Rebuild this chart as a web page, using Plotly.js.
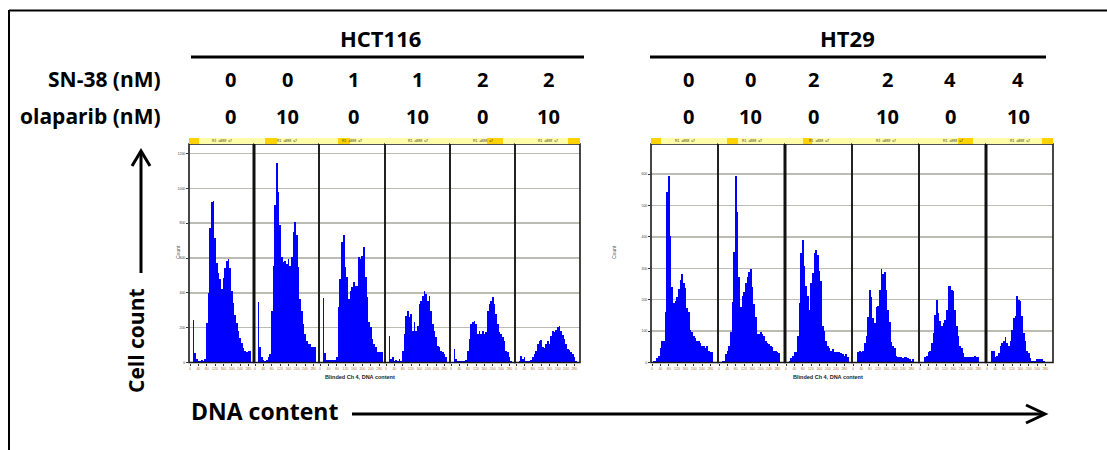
<!DOCTYPE html>
<html>
<head>
<meta charset="utf-8">
<script src="https://cdn.plot.ly/plotly-3.0.1.min.js"></script>
<style>
  html, body { margin: 0; padding: 0; background: #fff; }
  #fig { width: 1107px; height: 450px; }
</style>
</head>
<body>
<div id="fig"></div>
<script>
// ---- Treatment conditions -------------------------------------------------
const cellLines = ['HCT116', 'HT29'];
const hct116SN38 = ['0', '0', '1', '1', '2', '2'];
const hct116Olaparib = ['0', '10', '0', '10', '0', '10'];
const ht29SN38 = ['0', '0', '2', '2', '4', '4'];
const ht29Olaparib = ['0', '10', '0', '10', '0', '10'];

// ---- DNA-content histograms (cell counts per channel bin) -----------------
// HCT116
const hct116_0_0 = [0,0,245,57,23,11,11,17,6,23,228,399,770,923,929,713,570,513,479,422,485,542,581,593,542,410,342,274,228,182,143,114,86,68,63,68,68,0];
const hct116_0_10 = [0,0,348,91,34,17,11,17,29,51,296,553,906,1146,980,792,604,576,581,564,593,553,604,752,809,735,547,365,296,222,165,125,108,108,91,91,91,0];
const hct116_1_0 = [0,0,371,57,17,17,17,17,17,17,29,319,479,695,735,547,490,365,410,433,462,439,439,604,593,610,661,490,376,234,205,137,108,91,63,63,63,63];
const hct116_1_10 = [0,0,154,23,34,11,17,11,23,11,68,165,268,296,262,279,182,234,182,211,336,353,382,410,393,353,382,296,222,182,148,97,91,68,63,51,34,0];
const hct116_2_0 = [0,0,80,23,11,6,11,11,11,17,68,137,222,234,239,222,165,182,165,182,165,177,296,336,353,376,336,279,222,177,165,148,125,68,63,34,11,0];
const hct116_2_10 = [0,0,11,40,23,29,6,6,11,17,34,51,68,108,125,131,91,86,108,125,108,154,182,177,188,205,211,182,160,137,108,80,74,63,51,34,11,0];
// HT29
const ht29_0_0 = [0,6,6,13,22,45,67,70,160,544,595,403,240,189,195,208,234,262,282,253,237,173,160,102,96,86,77,70,67,61,54,51,45,51,38,32,32,0,0,0];
const ht29_0_10 = [0,3,6,6,26,38,54,96,192,352,595,480,272,176,211,224,253,272,288,298,240,186,144,90,90,96,90,83,70,61,58,54,48,38,38,32,29,0,0,0];
const ht29_2_0 = [0,3,6,13,22,32,35,83,189,349,390,307,243,211,166,253,285,349,358,342,291,259,115,99,70,54,45,38,42,35,32,35,32,29,26,22,26,19,0,0];
const ht29_2_10 = [0,0,0,35,38,35,38,61,83,144,230,208,141,125,176,179,230,298,282,288,230,166,128,64,51,45,22,19,16,19,13,19,19,13,10,6,10,0,0,0];
const ht29_4_0 = [0,0,0,19,22,32,38,61,93,150,198,157,131,115,125,134,166,243,243,230,227,166,115,83,54,45,29,19,16,16,19,16,19,22,19,16,0,0,0,0];
const ht29_4_10 = [0,0,0,38,38,19,22,29,54,61,70,80,61,51,70,102,141,147,211,198,195,147,93,70,38,29,13,6,6,6,10,10,10,10,6,3,3,3,0,0];

// ---- Page geometry (pixels) ----------------------------------------------
const W = 1107, H = 450;
const px = x => x / W;
const py = y => 1 - y / H;

const groups = [
  { name: cellLines[0], edges: [189, 254, 319, 385, 450, 515, 580], ymax: 1255, dtick: 200, nbins: 39,
    thick: [254], sn38: hct116SN38, ola: hct116Olaparib, labelX: [230, 287, 353, 417, 482, 548],
    series: [hct116_0_0, hct116_0_10, hct116_1_0, hct116_1_10, hct116_2_0, hct116_2_10],
    gold: [[189, 199], [265, 277], [338, 350], null, [487, 503], [568, 580]],
    titleX: 380, lineX: [191, 584], yTitleX: 178, xTitleX: 360 },
  { name: cellLines[1], edges: [651, 718, 785, 852, 919, 986, 1053], ymax: 696, dtick: 100, nbins: 40.2,
    thick: [785, 986], sn38: ht29SN38, ola: ht29Olaparib, labelX: [688, 750, 813, 887, 950, 1018],
    series: [ht29_0_0, ht29_0_10, ht29_2_0, ht29_2_10, ht29_4_0, ht29_4_10],
    gold: [[651, 661], [727, 738], [803, 812], null, [958, 973], [1042, 1053]],
    titleX: 847, lineX: [650, 1046], yTitleX: 614, xTitleX: 828 }
];

const plotTop = 144, plotBottom = 362.5, stripTop = 138;

const boldFont = (size) => ({ family: '"Open Sans", Lato, Arial, sans-serif', size: size, color: '#000', weight: 700 });

// text placed at a pixel position, anchored on its centre unless told otherwise
const label = (x, y, text, font, extra) => Object.assign({
  xref: 'paper', yref: 'paper', x: px(x), y: py(y), text: text, showarrow: false,
  xanchor: 'center', yanchor: 'middle', font: font
}, extra || {});

const traces = [];
const layout = {
  width: W, height: H,
  margin: { l: 0, r: 0, t: 0, b: 0 },
  paper_bgcolor: '#fff', plot_bgcolor: '#fff',
  showlegend: false, bargap: 0,
  shapes: [], annotations: []
};

let k = 0;
groups.forEach((g) => {
  g.series.forEach((counts, i) => {
    k += 1;
    const sfx = k === 1 ? '' : String(k);
    const bins = counts.map((_, j) => j);
    traces.push({
      type: 'bar', x: bins, y: counts, xaxis: 'x' + sfx, yaxis: 'y' + sfx,
      marker: { color: '#0000ff', line: { width: 0 } }, width: 1
    });
    const l = g.edges[i], r = g.edges[i + 1];
    layout['xaxis' + sfx] = {
      domain: [px(l), px(r)], anchor: 'y' + sfx,
      range: [-0.6, g.nbins - 0.6], showgrid: false, zeroline: false,
      ticks: 'outside', ticklen: 2, tickwidth: 1, tickcolor: '#333',
      tickvals: [0, 5, 10, 15, 20, 25, 30, 35],
      ticktext: ['0', '40', '80', '120', '160', '200', '240', '280'],
      tickfont: { family: 'Arial', size: 3.5, color: '#b0702a' },
      showline: false, fixedrange: true
    };
    layout['yaxis' + sfx] = {
      domain: [py(plotBottom), py(plotTop)], anchor: 'x' + sfx,
      range: [0, g.ymax], dtick: g.dtick, showgrid: true,
      gridcolor: '#bcbcb4', gridwidth: 1.5, zeroline: false,
      showticklabels: i === 0, ticks: i === 0 ? 'outside' : '', ticklen: 2, tickcolor: '#333',
      tickfont: { family: 'Arial', size: 3.5, color: '#444' },
      showline: false, fixedrange: true
    };
    // panel frame
    layout.shapes.push({ type: 'rect', xref: 'paper', yref: 'paper', x0: px(l), x1: px(r),
      y0: py(plotBottom), y1: py(plotTop), line: { color: '#1a1a1a', width: 1.6 }, layer: 'above' });
    // gating strip above each histogram
    layout.shapes.push({ type: 'rect', xref: 'paper', yref: 'paper', x0: px(l), x1: px(r),
      y0: py(plotTop), y1: py(stripTop), fillcolor: '#fffcaa', line: { width: 0 } });
    if (g.gold[i]) {
      layout.shapes.push({ type: 'rect', xref: 'paper', yref: 'paper', x0: px(g.gold[i][0]), x1: px(g.gold[i][1]),
        y0: py(plotTop), y1: py(stripTop), fillcolor: '#ffd200', line: { width: 0 } });
    }
    layout.annotations.push(label((l + r) / 2, 141, 'R1  a888  ≤7',
      { family: 'Arial', size: 3.5, color: '#3a3a20' }));
    // treatment labels
    layout.annotations.push(label(g.labelX[i], 79, g.sn38[i], boldFont(20)));
    layout.annotations.push(label(g.labelX[i], 116, g.ola[i], boldFont(20)));
  });
  // heavier dividers between panels
  g.thick.forEach((x) => {
    layout.shapes.push({ type: 'line', xref: 'paper', yref: 'paper', x0: px(x), x1: px(x),
      y0: py(plotBottom), y1: py(plotTop), line: { color: '#111', width: 3 }, layer: 'above' });
  });
  // cell line heading and rule
  layout.annotations.push(label(g.titleX, 38, g.name, boldFont(22)));
  layout.shapes.push({ type: 'line', xref: 'paper', yref: 'paper', x0: px(g.lineX[0]), x1: px(g.lineX[1]),
    y0: py(57), y1: py(57), line: { color: '#000', width: 3 } });
  // small axis captions of the cytometer plots
  layout.annotations.push(label(g.yTitleX, 252, 'Count',
    { family: 'Arial', size: 5, color: '#555' }, { textangle: -90 }));
  layout.annotations.push(label(g.xTitleX, 377, 'Blinded Ch 4, DNA content',
    { family: 'Arial', size: 5.5, color: '#222', weight: 700 }));
});

// row headers
layout.annotations.push(label(163, 79, 'SN-38 (nM)', boldFont(21), { xanchor: 'right' }));
layout.annotations.push(label(163, 116, 'olaparib (nM)', boldFont(21), { xanchor: 'right' }));

// axis legends with arrows
layout.annotations.push(label(136, 341, 'Cell count', boldFont(21), { textangle: -90 }));
layout.annotations.push(label(189, 411, 'DNA content', boldFont(23), { xanchor: 'left' }));

const arrowLine = { color: '#000', width: 3 };
layout.shapes.push({ type: 'line', xref: 'paper', yref: 'paper', x0: px(141), x1: px(141),
  y0: py(273), y1: py(152), line: arrowLine });
layout.shapes.push({ type: 'path', xref: 'paper', yref: 'paper',
  path: `M ${px(132)} ${py(166)} L ${px(141)} ${py(151)} L ${px(150)} ${py(166)}`, line: arrowLine });
layout.shapes.push({ type: 'line', xref: 'paper', yref: 'paper', x0: px(352), x1: px(1043),
  y0: py(414), y1: py(414), line: arrowLine });
layout.shapes.push({ type: 'path', xref: 'paper', yref: 'paper',
  path: `M ${px(1026)} ${py(405)} L ${px(1045)} ${py(414)} L ${px(1026)} ${py(423)}`, line: arrowLine });

// outer frame
layout.shapes.push({ type: 'line', xref: 'paper', yref: 'paper', x0: px(9), x1: 1,
  y0: py(10.5), y1: py(10.5), line: { color: '#000', width: 2 } });
layout.shapes.push({ type: 'line', xref: 'paper', yref: 'paper', x0: px(9), x1: px(9),
  y0: py(10), y1: 0, line: { color: '#000', width: 2 } });

Plotly.newPlot('fig', traces, layout, { staticPlot: true, displayModeBar: false });
</script>
</body>
</html>
